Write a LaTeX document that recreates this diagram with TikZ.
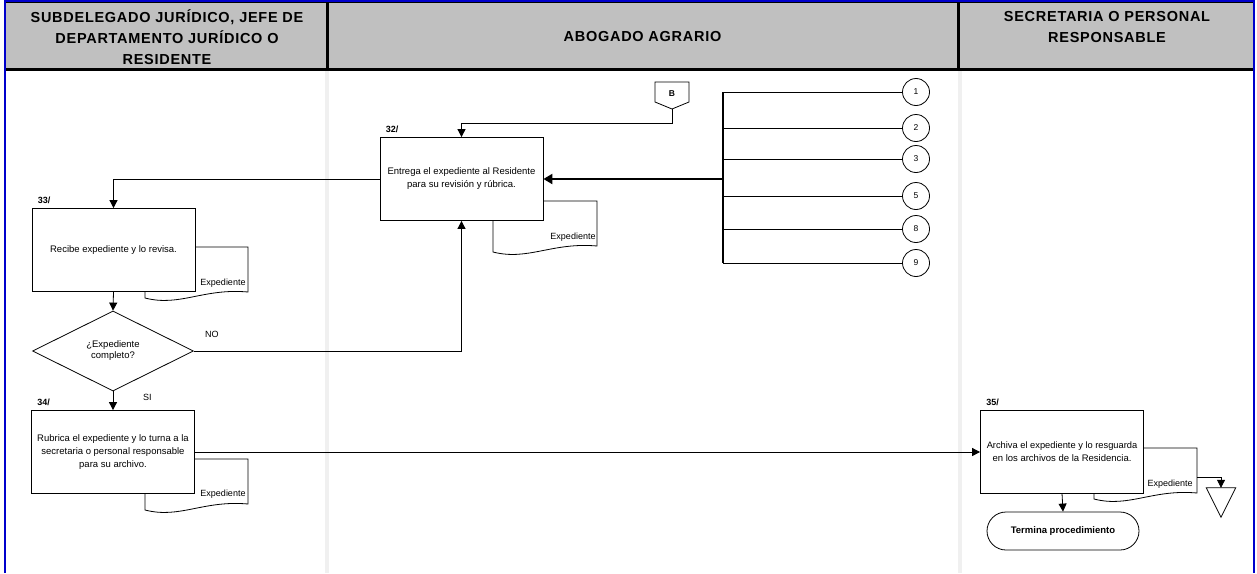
\documentclass[tikz,border=0pt]{standalone}
\usepackage{fontspec}
\setmainfont{Liberation Sans}
\newfontfamily\hdrfont[LetterSpace=5]{Liberation Sans}
\usetikzlibrary{arrows.meta,positioning,shapes.geometric,calc}
\definecolor{hdrgray}{HTML}{C0C0C0}
\definecolor{lanegray}{HTML}{F0F0F0}
\definecolor{frameblue}{HTML}{0000CC}
% document symbol: left x, right x, top y
\newcommand{\expdoc}[3]{%
  \draw[doc] (#1,#3) -- (#2,#3) -- (#2,#3+45) .. controls (#2-45,#3+41) and (#1+35,#3+60) .. (#1,#3+51) -- cycle;}

\begin{document}
\begin{tikzpicture}[
  x=1pt, y=-1pt,
  font=\fontsize{9.5}{13}\selectfont,
  hdr/.style={align=center, font=\hdrfont\bfseries\fontsize{14.5}{21}\selectfont},
  box/.style={draw, fill=white, line width=0.8pt, align=center, minimum width=163pt, minimum height=83pt, inner sep=2pt},
  dec/.style={draw, fill=white, line width=0.8pt, diamond, align=center, minimum width=161pt, minimum height=80pt, inner sep=0pt, font=\fontsize{9.5}{11}\selectfont},
  term/.style={draw, fill=white, line width=0.8pt, rounded corners=19pt, minimum width=152pt, minimum height=38pt, font=\bfseries\fontsize{9.5}{11}\selectfont},
  conn/.style={draw, fill=white, circle, line width=0.8pt, minimum size=27pt, inner sep=0pt, font=\fontsize{8.5}{10}\selectfont},
  doc/.style={draw, fill=white, line width=0.8pt},
  doclbl/.style={inner sep=0pt, font=\fontsize{9}{10}\selectfont},
  num/.style={inner sep=0pt, font=\bfseries\fontsize{9}{10}\selectfont},
  lbl/.style={inner sep=0pt, font=\fontsize{9}{10}\selectfont},
  flow/.style={line width=0.8pt},
  arrow/.style={-{Triangle[length=8pt,width=8pt]}, line width=0.8pt}
]
\useasboundingbox (0,0) rectangle (1257,573);
% lanes
\draw[lanegray, line width=3.5pt] (327,70) -- (327,573);
\draw[lanegray, line width=3.5pt] (960,70) -- (960,573);
\fill[hdrgray] (5,2) rectangle (1254,69);
\draw[line width=3pt] (5,69) -- (1254,69);
\draw[line width=3pt] (327,2) -- (327,69);
\draw[line width=3pt] (958,2) -- (958,69);
\draw[line width=1pt] (6,2.5) -- (1253,2.5);
\draw[frameblue, line width=2pt] (5,573) -- (5,1) -- (1254,1) -- (1254,573);
\node[hdr] (h1) at (167,37) {SUBDELEGADO JURÍDICO, JEFE DE\\DEPARTAMENTO JURÍDICO O\\RESIDENTE};
\node[hdr] (h2) at (642.5,37) {ABOGADO AGRARIO};
\node[hdr] (h3) at (1107,27) {SECRETARIA O PERSONAL\\RESPONSABLE};

% documents behind the steps
\expdoc{493}{597}{201}
\expdoc{145}{248}{247}
\expdoc{145}{248}{459}
\expdoc{1094}{1197}{448}

% steps
\node[box] (s32) at (461.5,179) {\fontsize{9.5}{14}\selectfont Entrega el expediente al Residente\\para su revisión y rúbrica.};
\node[box] (s33) at (113.5,250) {Recibe expediente y lo revisa.};
\node[dec] (q33) at (113,351) {¿Expediente\\completo?};
\node[box] (s34) at (113,452) {\fontsize{9.5}{10.5}\selectfont Rubrica el expediente y lo turna a la\\secretaria o personal responsable\\para su archivo.};
\node[box] (s35) at (1062,451.5) {\fontsize{9.3}{12.5}\selectfont Archiva el expediente y lo resguarda\\en los archivos de la Residencia.};
\node[term] (fin) at (1063,531) {Termina procedimiento};

\node[num, above right=4pt and 6pt of s32.north west] (n32) {32/};
\node[num, above right=4pt and 6pt of s33.north west] (n33) {33/};
\node[num, above right=4pt and 6pt of s34.north west] (n34) {34/};
\node[num, above right=4pt and 6pt of s35.north west] (n35) {35/};

\node[doclbl] (e32) at (573,237) {Expediente};
\node[doclbl] (e33) at (223,283) {Expediente};
\node[doclbl] (e34) at (223,494) {Expediente};
\node[doclbl] (e35) at (1170,484) {Expediente};

% off-page connector B
\node[inner sep=0pt, font=\bfseries\fontsize{8.5}{10}\selectfont] (B) at (672,94) {B};
\draw[line width=0.8pt] (655,82) -- (689,82) -- (689,102) -- (672,109) -- (655,102) -- cycle;
\coordinate (Btip) at (672,109);

% incoming connectors
\coordinate (trunk) at (723,179);
\foreach \n/\yy in {1/92,2/128,3/159,5/196,8/229,9/263}{
  \node[conn] (c\n) at (916,\yy) {\n};
  \draw[flow] (c\n.west) -- (c\n.west -| trunk);
}
\draw[line width=1.4pt] (c1.west -| trunk) -- (c9.west -| trunk);

% archive
\node[inner sep=0pt, minimum width=29pt, minimum height=29pt] (arch) at (1221,502.5) {};
\draw[line width=0.8pt] (arch.north west) -- (arch.north east) -- (arch.south) -- cycle;
\coordinate (d35r) at (1197,477);

% flow
\draw[arrow] (Btip) -- ++(0,14) -| (s32.north);
\draw[-{Triangle[length=9pt,width=10pt]}, line width=2pt] (trunk) -- (s32.east);
\draw[arrow] (s32.west) -| (s33.north);
\draw[arrow] (s33.south) -- (q33.north);
\draw[arrow] (q33.east) -| (s32.south);
\draw[arrow] (q33.south) -- (s34.north);
\draw[arrow] (s34.east) -- (s34.east -| s35.west);
\draw[arrow] (s35.south) -- (fin.north);
\draw[arrow] (d35r) -| (arch.north);
\node[lbl, above right=13pt and 11pt of q33.east] (no) {NO};
\node[lbl, below right=3pt and 30pt of q33.south] (si) {SI};
\end{tikzpicture}
\end{document}
